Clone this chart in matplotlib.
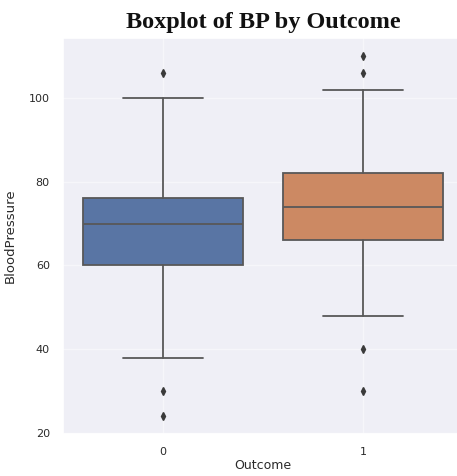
import matplotlib
matplotlib.use('Agg')
import matplotlib.pyplot as plt
import seaborn as sns

# values
outcomes   = ['0', '1']
q1         = [60, 66]
medians    = [70, 74]
q3         = [76, 82]
whisk_low  = [38, 48]
whisk_high = [100, 102]
fliers     = [[106, 30, 24], [110, 106, 40, 30]]

sns.set_theme(style='darkgrid', rc={'axes.facecolor': '#efeff6',
                                    'grid.color': '#f6f6fa'})
palette = sns.color_palette('deep')
box_colors = [sns.desaturate(c, 0.75) for c in palette[:2]]
LINE = '#585858'
TXT = '#2a2a2a'

fig = plt.figure(figsize=(4.57, 4.76), dpi=100)
ax = fig.add_axes([0.138, 0.088, 0.875, 0.832])

stats = []
for i in range(len(outcomes)):
    stats.append(dict(label=outcomes[i], med=medians[i], q1=q1[i], q3=q3[i],
                      whislo=whisk_low[i], whishi=whisk_high[i], fliers=fliers[i]))

bp = ax.bxp(stats, positions=range(len(outcomes)), widths=0.8,
            patch_artist=True,
            boxprops=dict(edgecolor=LINE, linewidth=1.3),
            medianprops=dict(color=LINE, linewidth=1.3),
            whiskerprops=dict(color=LINE, linewidth=1.3),
            capprops=dict(color=LINE, linewidth=1.3),
            flierprops=dict(marker='d', markerfacecolor='#3a3a3a', markeredgecolor='#3a3a3a',
                            markersize=4, linestyle='none'),
            capwidths=0.4)
for patch, c in zip(bp['boxes'], box_colors):
    patch.set_facecolor(c)

ax.set_xlim(-0.5, 1.5)
ax.set_yticks([20, 40, 60, 80, 100])
ax.tick_params(axis='both', labelsize=8, colors=TXT)
ax.set_xlabel('Outcome', fontsize=9, color=TXT, labelpad=1)
ax.set_ylabel('BloodPressure', fontsize=9.5, color=TXT, labelpad=9)
ax.set_title('Boxplot of BP by Outcome', fontsize=17.5, fontweight='bold',
             family='Liberation Serif', pad=7, color='#111111')

fig.savefig('out.png', dpi=100)
